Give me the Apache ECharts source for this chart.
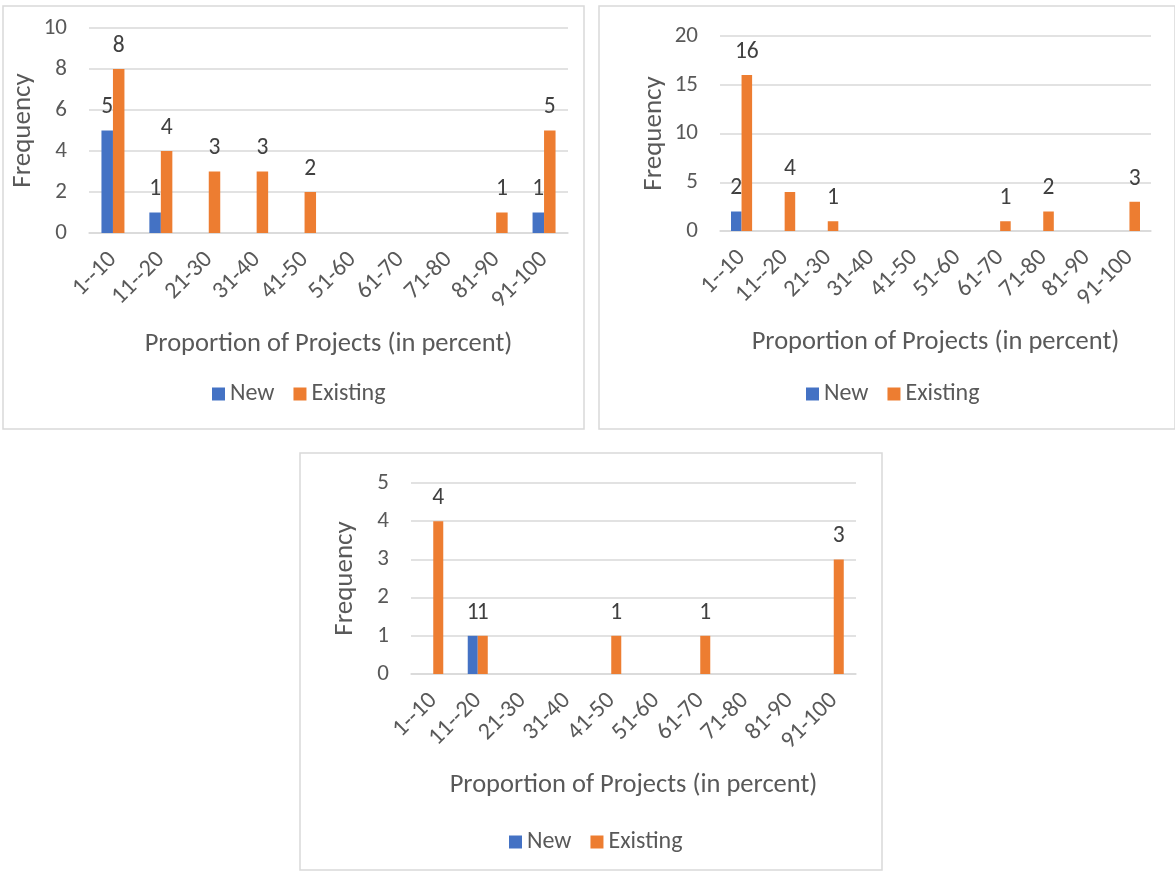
<!DOCTYPE html>
<html>
<head>
<meta charset="utf-8">
<script src="https://cdn.jsdelivr.net/npm/echarts@6/dist/echarts.min.js"></script>
<style>
html,body{margin:0;padding:0;background:#fff;}
#c{width:1175px;height:871px;}
</style>
</head>
<body>
<div id="c"></div>
<script>
const categories = ['1--10','11--20','21-30','31-40','41-50','51-60','61-70','71-80','81-90','91-100'];
const newA = [5,1,0,0,0,0,0,0,0,1];
const existingA = [8,4,3,3,2,0,0,0,1,5];
const newB = [2,0,0,0,0,0,0,0,0,0];
const existingB = [16,4,1,0,0,0,1,2,0,3];
const newC = [0,1,0,0,0,0,0,0,0,0];
const existingC = [4,1,0,0,1,0,1,0,0,3];
const yMax = [10,20,5];
const yStep = [2,5,1];
const xTitle = 'Proportion of Projects (in percent)';
const yTitle = 'Frequency';
const seriesNames = ['New','Existing'];

const FONT = 'Carlito, Calibri, Lato, sans-serif';
const TXT = '#595959';
const BLUE = '#4472C4', ORANGE = '#ED7D31';

const grids = [
  {left:89, top:28, width:479, height:205},
  {left:720, top:36, width:431, height:195},
  {left:411, top:483, width:445, height:191}
];
const panels = [
  {x:3, y:6, w:581, h:423},
  {x:599, y:6, w:576, h:423},
  {x:300, y:453, w:582, h:417}
];
const legendTops = [377, 377, 825];
const legendLefts = [207, 801, 504];
const gaps = ['52%','51%','55%'];
const data = [[newA, existingA],[newB, existingB],[newC, existingC]];

const option = {
  animation:false,
  backgroundColor:'#fff',
  textStyle:{fontFamily:FONT},
  graphic: panels.map(p=>({type:'rect', shape:{x:p.x,y:p.y,width:p.w,height:p.h}, style:{fill:'none', stroke:'#d9d9d9', lineWidth:1.5}, silent:true})),
  grid: grids,
  legend: grids.map((g,i)=>({
    left: legendLefts[i], top: legendTops[i], orient:'horizontal',
    icon:'rect', itemWidth:13, itemHeight:13, itemGap:19,
    textStyle:{fontFamily:FONT, fontSize:24, color:TXT},
    data: seriesNames
  })),
  xAxis: grids.map((g,i)=>({
    type:'category', gridIndex:i, data:categories,
    axisLine:{lineStyle:{color:'#d9d9d9', width:1.5}},
    axisTick:{show:false},
    axisLabel:{rotate:45, fontSize:24, color:TXT, fontFamily:FONT, margin:23, interval:0},
    name:xTitle, nameLocation:'middle', nameGap:98,
    nameTextStyle:{fontSize:26.5, color:TXT, fontFamily:FONT}
  })),
  yAxis: grids.map((g,i)=>({
    type:'value', gridIndex:i, min:0, max:yMax[i], interval:yStep[i],
    axisLine:{show:false}, axisTick:{show:false},
    splitLine:{lineStyle:{color:'#d9d9d9', width:1.5}},
    axisLabel:{fontSize:23, color:TXT, fontFamily:FONT, margin:22},
    name:yTitle, nameLocation:'middle', nameGap:52,
    nameTextStyle:{fontSize:27, color:TXT, fontFamily:FONT}
  })),
  series: []
};
data.forEach((pair,i)=>{
  pair.forEach((vals,j)=>{
    option.series.push({
      type:'bar', name:seriesNames[j], xAxisIndex:i, yAxisIndex:i,
      data: vals, barGap:'0%', barCategoryGap:gaps[i],
      itemStyle:{color: j===0?BLUE:ORANGE},
      label:{show:true, position:'top', distance:11, fontSize:23.5, color:'#404040', fontFamily:FONT,
        formatter:p=> p.value ? String(p.value) : ''}
    });
  });
});
const chart = echarts.init(document.getElementById('c'));
chart.setOption(option);
</script>
</body>
</html>
